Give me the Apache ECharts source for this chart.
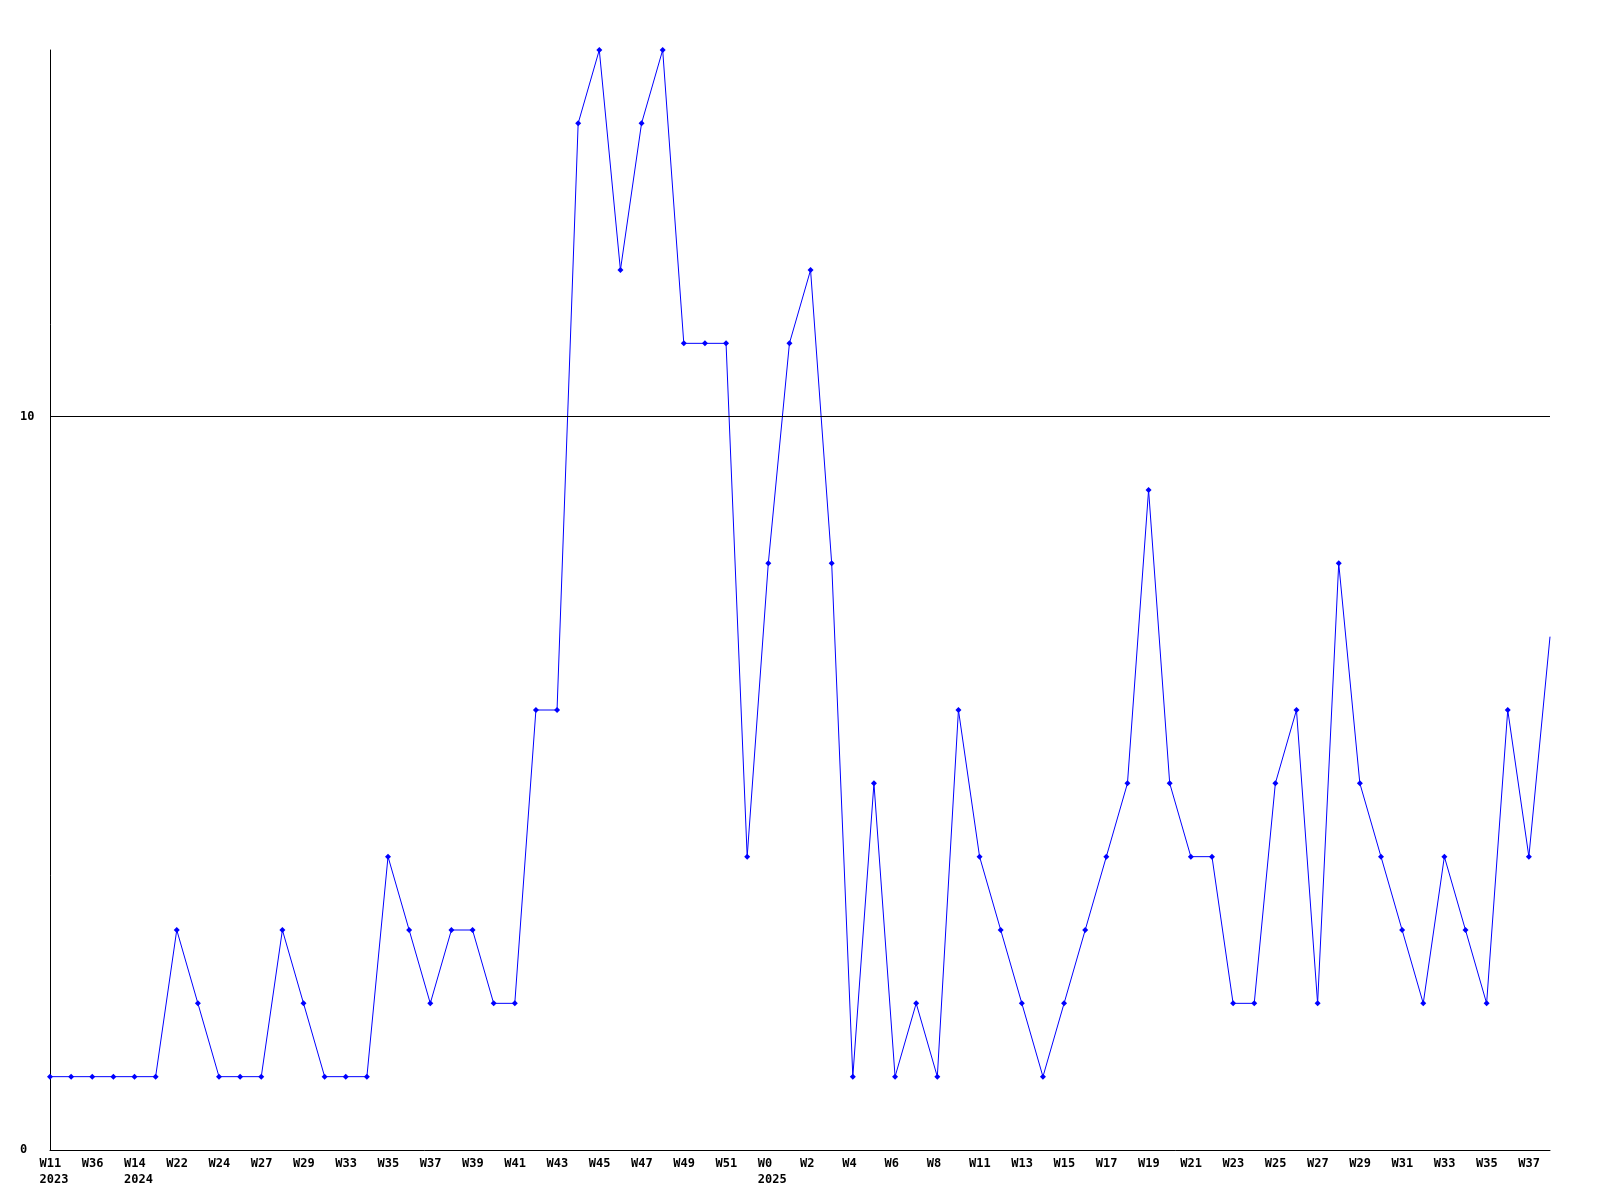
<!DOCTYPE html>
<html>
<head>
<meta charset="utf-8">
<script src="https://cdn.jsdelivr.net/npm/echarts@6/dist/echarts.min.js"></script>
<style>
html, body { margin: 0; padding: 0; background: #fff; }
#chart { width: 1600px; height: 1200px; }
</style>
</head>
<body>
<div id="chart"></div>
<script>
// week labels (year shown on first week of a new year)
const weeks = [
  'W11\n2023', 'W35', 'W36', 'W37', 'W14\n2024', 'W21', 'W22', 'W23', 'W24', 'W26',
  'W27', 'W28', 'W29', 'W31', 'W33', 'W34', 'W35', 'W36', 'W37', 'W38',
  'W39', 'W40', 'W41', 'W42', 'W43', 'W44', 'W45', 'W46', 'W47', 'W48',
  'W49', 'W50', 'W51', 'W52', 'W0\n2025', 'W1', 'W2', 'W3', 'W4', 'W5',
  'W6', 'W7', 'W8', 'W10', 'W11', 'W12', 'W13', 'W14', 'W15', 'W16',
  'W17', 'W18', 'W19', 'W20', 'W21', 'W22', 'W23', 'W24', 'W25', 'W26',
  'W27', 'W28', 'W29', 'W30', 'W31', 'W32', 'W33', 'W34', 'W35', 'W36',
  'W37', 'W38',
];
const counts = [
  1, 1, 1, 1, 1, 1, 3, 2, 1, 1,
  1, 3, 2, 1, 1, 1, 4, 3, 2, 3,
  3, 2, 2, 6, 6, 14, 15, 12, 14, 15,
  11, 11, 11, 4, 8, 11, 12, 8, 1, 5,
  1, 2, 1, 6, 4, 3, 2, 1, 2, 3,
  4, 5, 9, 5, 4, 4, 2, 2, 5, 6,
  2, 8, 5, 4, 3, 2, 4, 3, 2, 6,
  4, 7,
];
const yTicks = [0, 10];
const refLine = 10;

const chart = echarts.init(document.getElementById('chart'));
const font = 'DejaVu Sans Mono';

// last point is drawn without a marker
const seriesData = counts.map((v, i) => (i === counts.length - 1 ? { value: v, symbol: 'none' } : v));

chart.setOption({
  animation: false,
  grid: { left: 50, right: 50, top: 50, bottom: 50, containLabel: false },
  xAxis: {
    type: 'category',
    data: weeks,
    boundaryGap: false,
    axisLine: { lineStyle: { color: '#000', width: 1 } },
    axisTick: { show: false },
    axisLabel: {
      interval: 1,
      margin: 6,
      align: 'center',
      // every line starts ~10px left of its point
      formatter: (val) => val.split('\n').map((s) => `{w|${s}}`).join('\n'),
      rich: {
        w: {
          width: 21,
          align: 'left',
          color: '#000',
          fontFamily: font,
          fontWeight: 'bold',
          fontSize: 12,
          lineHeight: 16,
        },
      },
    },
    splitLine: { show: false },
  },
  yAxis: {
    type: 'value',
    min: 0,
    max: 15,
    interval: 10,
    axisLine: { show: true, lineStyle: { color: '#000', width: 1 } },
    axisTick: { show: false },
    splitLine: { show: false },
    axisLabel: {
      customValues: yTicks,
      margin: 30,
      align: 'left',
      color: '#000',
      fontFamily: font,
      fontWeight: 'bold',
      fontSize: 12,
    },
  },
  series: [{
    type: 'line',
    data: seriesData,
    clip: false,
    symbol: 'diamond',
    symbolSize: 6,
    showAllSymbol: true,
    lineStyle: { color: '#0000ff', width: 1 },
    itemStyle: { color: '#0000ff' },
    markLine: {
      silent: true,
      symbol: 'none',
      label: { show: false },
      lineStyle: { color: '#000', width: 1, type: 'solid' },
      data: [{ yAxis: refLine }],
    },
  }],
});
</script>
</body>
</html>
